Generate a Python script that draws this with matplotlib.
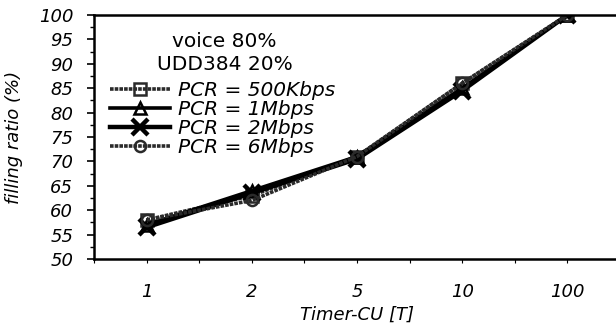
import matplotlib
matplotlib.use("Agg")
import matplotlib.pyplot as plt
from matplotlib.ticker import MultipleLocator, FixedLocator

plt.rcParams['font.family'] = ['DejaVu Sans']

timer_labels = ["1", "2", "5", "10", "100"]
pcr_500k = [58.0, 63.0, 71.0, 86.0, 100.0]
pcr_1m = [57.0, 64.0, 71.0, 85.0, 100.0]
pcr_2m = [56.5, 63.5, 70.5, 84.5, 100.0]
pcr_6m = [58.0, 62.0, 71.0, 86.0, 100.0]
series_labels = ["PCR = 500Kbps", "PCR = 1Mbps", "PCR = 2Mbps", "PCR = 6Mbps"]

fig = plt.figure(figsize=(6.16, 3.33), dpi=100)
ax = fig.add_axes([94 / 616, 1 - 259 / 333, 526 / 616, 244 / 333])

x = list(range(len(timer_labels)))
styles = [
    dict(marker="s", color="#2a2a2a", lw=2.6, ms=8, mfc="none", mew=1.8, ls=(0, (1, 0.3))),
    dict(marker="^", color="black", lw=2.6, ms=8, mfc="none", mew=1.8),
    dict(marker="x", color="black", lw=3.2, ms=11, mew=3.2),
    dict(marker="o", color="#2a2a2a", lw=2.6, ms=8, mfc="none", mew=1.8, ls=(0, (1, 0.3))),
]
for vals, lab, st in zip([pcr_500k, pcr_1m, pcr_2m, pcr_6m], series_labels, styles):
    ax.plot(x, vals, label=lab, **st)

ax.set_xlim(-0.5, 4.5)
ax.set_ylim(50, 100)
ax.xaxis.set_major_locator(FixedLocator(x))
ax.set_xticklabels(timer_labels, fontsize=13, style="italic")
ax.xaxis.set_minor_locator(FixedLocator([i + 0.5 for i in range(-1, 5)]))
ax.yaxis.set_major_locator(MultipleLocator(5))
ax.yaxis.set_minor_locator(MultipleLocator(2.5))
for lbl in ax.get_yticklabels():
    lbl.set_fontsize(13)
    lbl.set_style("italic")
ax.tick_params(axis="y", which="major", direction="out", length=5, width=1.2, pad=10)
ax.tick_params(axis="y", which="minor", direction="out", length=3, width=1.0)
ax.tick_params(axis="x", which="both", direction="out", length=3, width=0.8, pad=14)

for s in ("left", "bottom", "top"):
    ax.spines[s].set_linewidth(1.8)
ax.spines["right"].set_visible(False)

ax.set_xlabel("Timer-CU [T]", fontsize=13, style="italic", labelpad=4)
ax.set_ylabel("filling ratio (%)", fontsize=13, style="italic", labelpad=11)

ax.text(0.74, 94.5, "voice 80%", fontsize=14.5, ha="center", va="center")
ax.text(0.74, 89.8, "UDD384 20%", fontsize=14.5, ha="center", va="center")

ax.legend(loc="upper left", bbox_to_anchor=(0.03, 0.73), frameon=False,
          prop=dict(style="italic", size=14.5), handlelength=3.0,
          handletextpad=0.4, labelspacing=0.0, borderpad=0, borderaxespad=0)

fig.savefig("out.png", dpi=100)
